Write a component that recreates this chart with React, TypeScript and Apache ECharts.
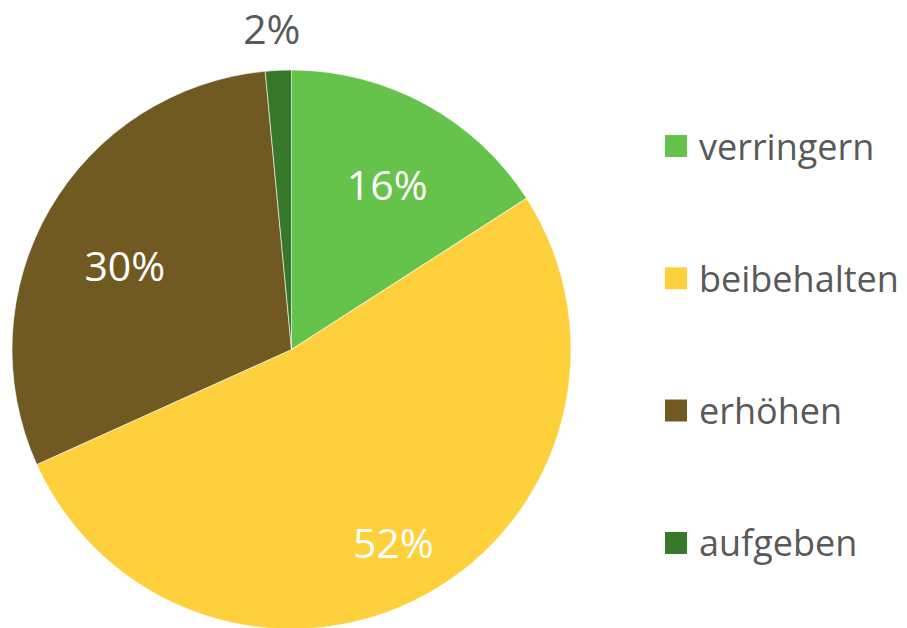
import React, { useEffect, useRef } from "react";
import * as echarts from "echarts";

const categories = ["verringern", "beibehalten", "erhöhen", "aufgeben"];
const values = [15.9, 52.35, 30.25, 1.5];
const colors = ["#65C24A", "#FDD03C", "#705A22", "#37782A"];

const FONT = "'Open Sans', 'Noto Sans', sans-serif";

export default function App() {
  const ref = useRef<HTMLDivElement>(null);
  useEffect(() => {
    if (!ref.current) return;
    const chart = echarts.init(ref.current, null, { renderer: "svg" });
    const cx = 291.5;
    const cy = 349.5;
    const r = 279.5;
    // label placement (radial factor and angular nudge, in degrees)
    const factors = [0.684, 0.78, 0.669, 1.154];
    const nudges = [1.4, 0.7, -3.2, -0.8];
    const total = values.reduce((a, b) => a + b, 0);
    const mids: number[] = [];
    let acc = 0;
    values.forEach((v) => {
      mids.push(((acc + v / 2) / total) * Math.PI * 2);
      acc += v;
    });
    chart.setOption({
      animation: false,
      backgroundColor: "#ffffff",
      legend: {
        orient: "vertical",
        left: 658,
        top: 121,
        itemWidth: 24,
        itemHeight: 24,
        itemGap: 92.3,
        icon: "rect",
        data: categories,
        textStyle: {
          fontFamily: FONT,
          fontSize: 36,
          color: "#595959",
          lineHeight: 40,
          padding: [0, 0, 0, 6],
        },
      },
      series: [
        {
          type: "pie",
          center: [cx, cy],
          radius: r,
          startAngle: 90,
          clockwise: true,
          avoidLabelOverlap: false,
          itemStyle: { borderColor: "#ffffff", borderWidth: 0.6 },
          emphasis: { disabled: true },
          label: {
            show: true,
            position: "inside",
            fontFamily: FONT,
            fontSize: 41,
            color: "#ffffff",
            formatter: (p: any) => Math.round(p.percent) + "%",
          },
          labelLine: { show: false },
          labelLayout: (params: any) => {
            const i = params.dataIndex;
            const a = mids[i] + (nudges[i] * Math.PI) / 180;
            const f = factors[i];
            return {
              x: cx + r * f * Math.sin(a),
              y: cy - r * f * Math.cos(a),
              align: "center",
              verticalAlign: "middle",
            };
          },
          data: categories.map((name, i) => ({
            name,
            value: values[i],
            itemStyle: { color: colors[i] },
            label: i === 3 ? { color: "#595959" } : undefined,
          })),
        },
      ],
    });
    return () => chart.dispose();
  }, []);
  return (
    <div
      ref={ref}
      style={{ position: "fixed", left: 0, top: 0, width: 907, height: 628 }}
    />
  );
}
